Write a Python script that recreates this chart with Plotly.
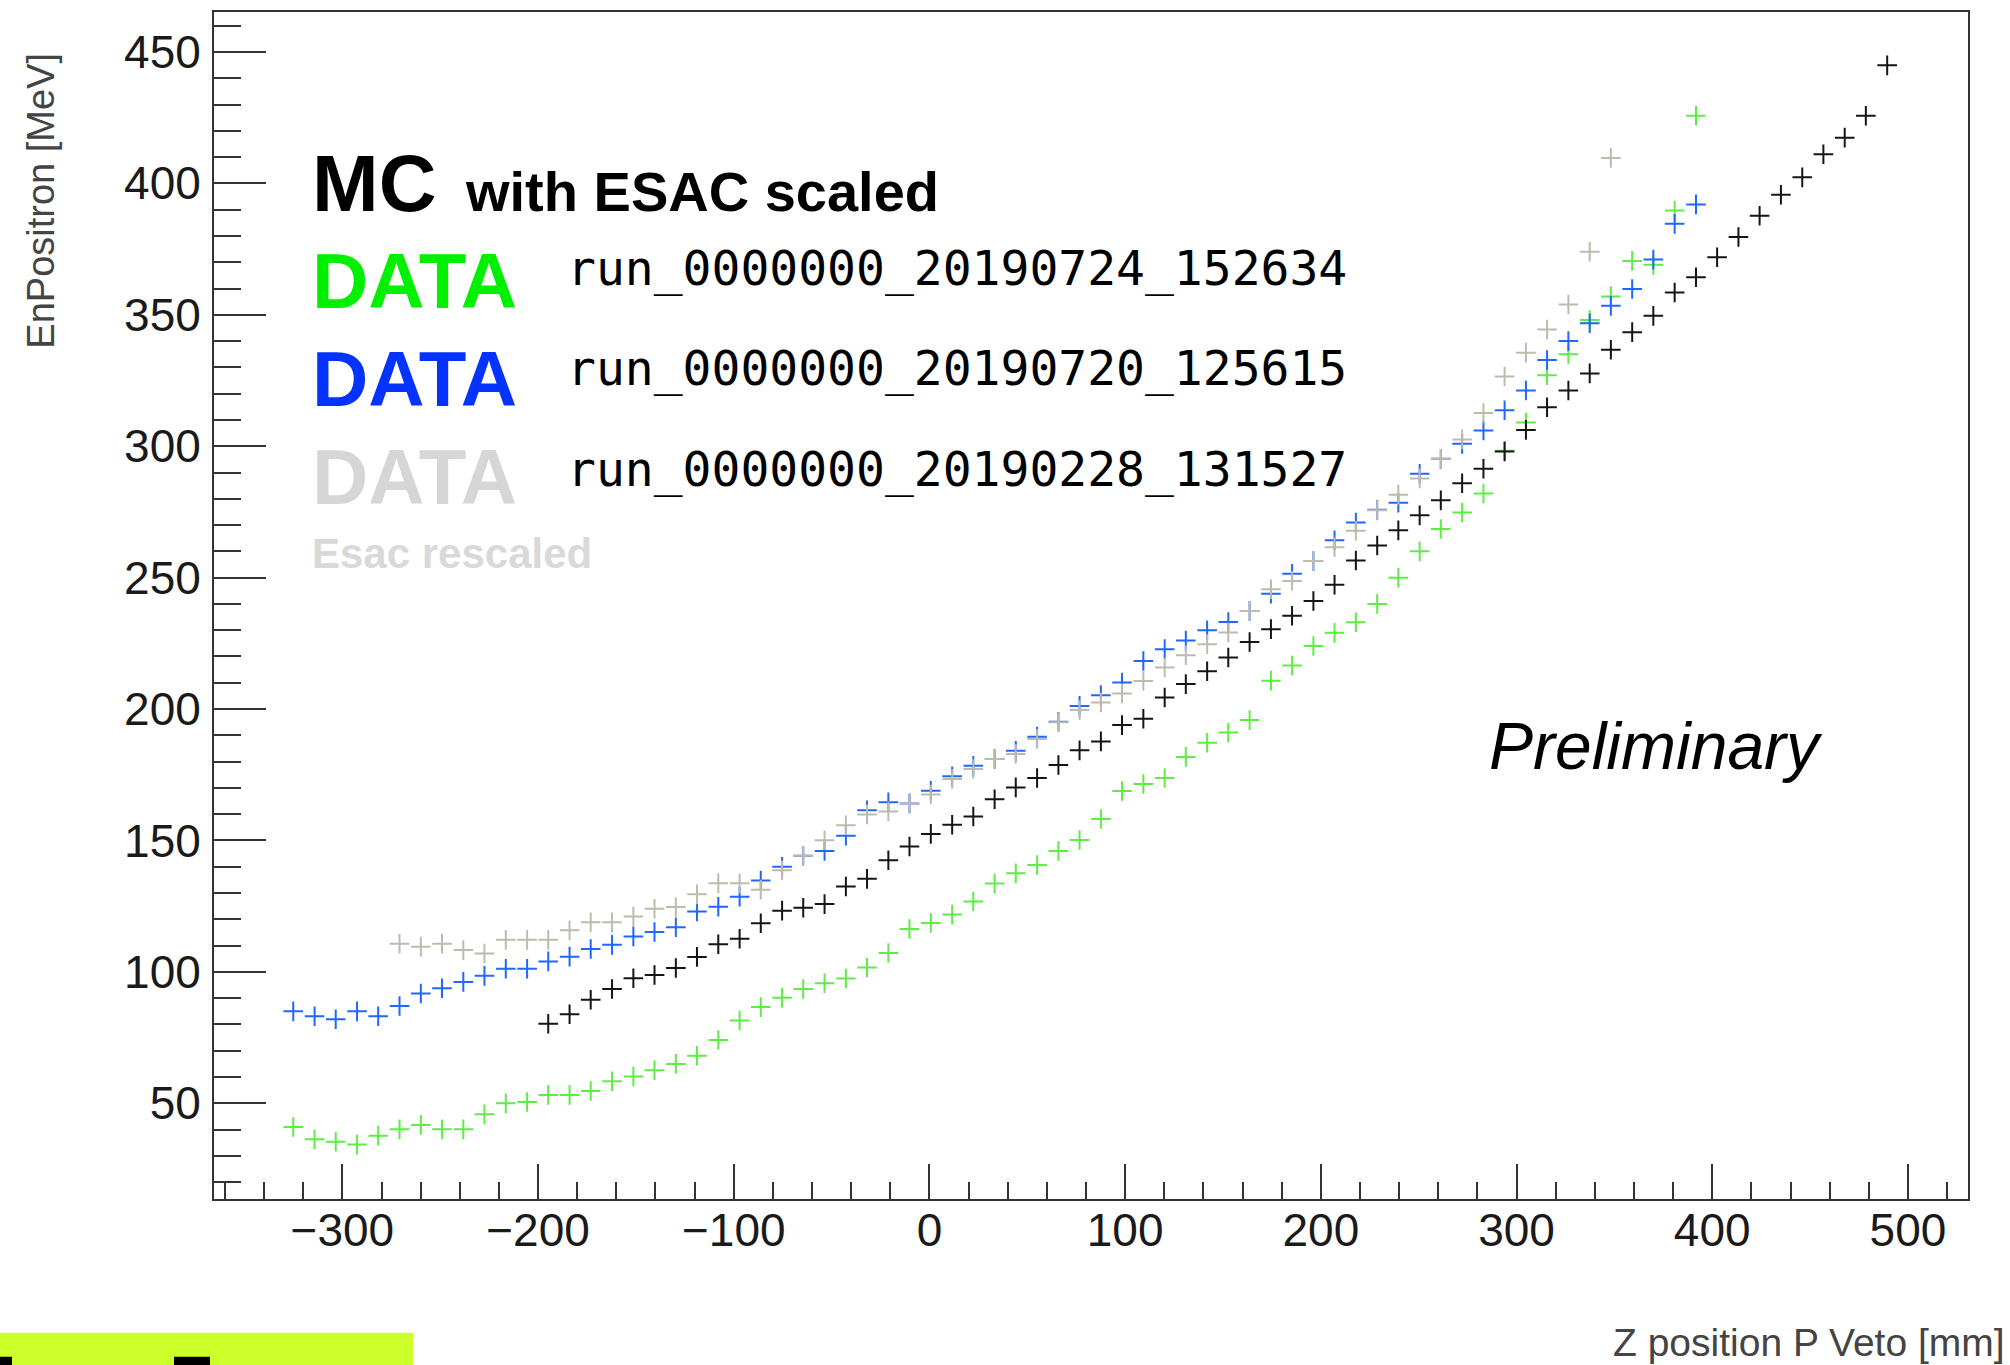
import plotly.graph_objects as go

# ---------------- data ----------------
# Z positions of the P-Veto fingers [mm] (shared channel grid)
z_pos = [-325.1, -314.2, -303.4, -292.5, -281.7, -270.8, -259.9, -249.1, -238.2, -227.4,
         -216.5, -205.6, -194.8, -183.9, -173.1, -162.2, -151.3, -140.5, -129.6, -118.8,
         -107.9, -97.0, -86.2, -75.3, -64.5, -53.6, -42.7, -31.9, -21.0, -10.2,
         0.7, 11.6, 22.4, 33.3, 44.1, 55.0, 65.9, 76.7, 87.6, 98.4,
         109.3, 120.2, 131.0, 141.9, 152.7, 163.6, 174.5, 185.3, 196.2, 207.0,
         217.9, 228.8, 239.6, 250.5, 261.3, 272.2, 283.1, 293.9, 304.8, 315.6,
         326.5, 337.4, 348.2, 359.1, 369.9, 380.8, 391.7, 402.5, 413.4, 424.2,
         435.1, 446.0, 456.8, 467.7, 478.5, 489.4]

# MC with ESAC scaled (channels 12..75)
mc_energy = [80.3, 83.9, 89.4, 93.5, 97.6, 98.8, 101.5, 105.7, 110.5, 112.6,
             118.5, 123.3, 124.4, 125.8, 132.5, 135.4, 142.5, 147.7, 152.5, 156.0,
             159.1, 165.7, 170.2, 173.8, 178.7, 184.3, 187.7, 193.9, 196.3, 204.4,
             209.5, 214.4, 219.6, 225.5, 230.4, 235.5, 241.1, 247.3, 256.5, 262.2,
             268.0, 273.7, 279.4, 285.9, 291.4, 298.0, 306.2, 314.8, 321.2, 327.7,
             336.7, 343.4, 349.6, 358.5, 364.3, 371.9, 379.6, 387.7, 395.7, 402.3,
             411.1, 417.4, 425.7, 444.9]
mc_first = 12

# DATA run_0000000_20190724_152634 (green, channels 0..66)
green_energy = [41.0, 36.3, 35.4, 34.3, 37.7, 40.1, 41.8, 40.1, 40.1, 45.8,
                50.0, 50.5, 53.2, 53.2, 54.7, 58.4, 60.2, 62.6, 65.0, 68.1,
                74.1, 81.5, 86.6, 90.2, 93.5, 95.7, 97.5, 101.7, 107.2, 116.3,
                118.6, 121.8, 126.8, 133.6, 137.5, 140.7, 146.0, 150.2, 158.2, 168.8,
                171.5, 173.8, 181.8, 187.2, 191.1, 195.8, 210.8, 216.6, 224.0, 229.0,
                233.0, 240.0, 250.0, 260.0, 268.5, 274.8, 282.0, 298.3, 309.0, 327.0,
                335.0, 348.0, 357.0, 370.5, 369.0, 389.7, 425.7]
green_first = 0

# DATA run_0000000_20190720_125615 (blue, channels 0..66)
blue_energy = [85.0, 83.1, 82.0, 85.0, 83.1, 87.0, 91.8, 93.8, 96.2, 98.5,
               101.2, 101.2, 104.0, 105.8, 108.7, 110.3, 113.5, 115.2, 117.0, 123.0,
               124.8, 128.6, 134.8, 140.0, 144.2, 146.0, 151.8, 161.5, 164.5, 164.1,
               168.9, 174.4, 178.4, 181.0, 184.1, 189.5, 195.2, 201.2, 205.3, 210.1,
               218.3, 222.8, 226.1, 230.0, 233.1, 237.3, 243.9, 251.5, 256.3, 264.2,
               271.0, 275.8, 278.5, 289.5, 295.2, 300.9, 306.0, 313.7, 321.2, 332.8,
               340.0, 346.8, 353.4, 359.8, 371.0, 384.6, 392.0]
blue_first = 0

# DATA run_0000000_20190228_131527, Esac rescaled (grey, channels 5..62)
grey_energy = [110.7, 109.6, 110.7, 108.3, 107.0,
               112.2, 112.2, 112.2, 115.8, 118.9, 118.9, 121.1, 124.0, 124.7, 129.5,
               133.7, 133.7, 131.3, 138.7, 144.2, 150.1, 155.8, 159.9, 161.0, 164.1,
               167.5, 173.4, 177.2, 181.0, 182.9, 188.6, 195.0, 199.6, 202.5, 205.9,
               210.7, 215.8, 220.5, 224.7, 229.1, 237.3, 245.6, 248.7, 256.3, 261.6,
               267.8, 275.6, 281.5, 287.7, 295.2, 302.6, 312.6, 326.5, 335.6, 344.4,
               353.9, 374.0, 409.7]
grey_first = 5

run_labels = ["run_0000000_20190724_152634",
              "run_0000000_20190720_125615",
              "run_0000000_20190228_131527"]

x_range = [-365.6, 530.7]
y_range = [13.6, 465.2]

# ---------------- styling ----------------
W, H = 2010, 1365
L, R, T, B = 214, 1968, 10, 1199


def px(x):
    return (x - L) / (R - L)


def py(y):
    return (B - y) / (B - T)


SANS = "Liberation Sans"
MONO = "DejaVu Sans Mono"

fig = go.Figure()


def add_series(first, energy, color):
    fig.add_trace(go.Scatter(
        x=z_pos[first:first + len(energy)], y=energy, mode="markers",
        marker=dict(symbol="cross-thin", size=14, color=color,
                    line=dict(width=2, color=color)),
        hoverinfo="x+y"))


add_series(green_first, green_energy, "#5fec46")
add_series(blue_first, blue_energy, "#2166ff")
add_series(grey_first, grey_energy, "#bdbcac")
add_series(mc_first, mc_energy, "#151515")

axis_common = dict(showline=True, linewidth=2, linecolor="#333333", mirror=True,
                   showgrid=False, zeroline=False, ticks="inside", tickwidth=2,
                   tickcolor="#333333",
                   tickfont=dict(family=SANS, size=46, color="#1a1a1a"))

fig.update_xaxes(range=x_range, tick0=0, dtick=100, ticklen=35,
                 ticklabelstandoff=-10,
                 minor=dict(tick0=0, dtick=20, ticks="inside", ticklen=17,
                            tickwidth=2, tickcolor="#333333", showgrid=False),
                 **axis_common)
fig.update_yaxes(range=y_range, tick0=0, dtick=50, ticklen=52,
                 ticklabelstandoff=2,
                 minor=dict(tick0=0, dtick=10, ticks="inside", ticklen=27,
                            tickwidth=2, tickcolor="#333333", showgrid=False),
                 **axis_common)

ann = []


def text(x, y, s, size, color="black", family=SANS, weight="normal",
         style="normal", xanchor="left", angle=0):
    ann.append(dict(x=px(x), y=py(y), xref="paper", yref="paper", text=s,
                    showarrow=False, xanchor=xanchor, yanchor="middle",
                    textangle=angle,
                    font=dict(family=family, size=size, color=color,
                              weight=weight, style=style)))


text(41, 199, "EnPositron [MeV]", 38, color="#444444", xanchor="center", angle=-90)
text(2007, 1343, "Z position P Veto [mm]", 39, color="#444444", xanchor="right")

text(310, 182, "MC", 80, weight="bold")
text(463, 190, "with ESAC scaled", 56, weight="bold")
text(310, 279, "DATA", 78, color="#00f000", weight="bold")
text(310, 378, "DATA", 78, color="#0433ff", weight="bold")
text(310, 476, "DATA", 78, color="#d6d6d6", weight="bold")
text(310, 552, "Esac rescaled", 42, color="#d9d9d9", weight="bold")
text(565, 266, run_labels[0], 48, family=MONO)
text(565, 367, run_labels[1], 48, family=MONO)
text(565, 468, run_labels[2], 48, family=MONO)
text(1487, 745, "Preliminary", 66, style="italic")

shapes = [
    dict(type="rect", xref="paper", yref="paper", x0=px(0), x1=px(413),
         y0=py(1370), y1=py(1333), fillcolor="#ccff2a", line=dict(width=0), layer="above"),
    dict(type="rect", xref="paper", yref="paper", x0=px(0), x1=px(12),
         y0=py(1370), y1=py(1357), fillcolor="black", line=dict(width=0), layer="above"),
    dict(type="rect", xref="paper", yref="paper", x0=px(174), x1=px(210),
         y0=py(1370), y1=py(1357), fillcolor="black", line=dict(width=0), layer="above"),
]

fig.update_layout(width=W, height=H,
                  margin=dict(l=L, r=W - R, t=T, b=H - B, pad=0),
                  paper_bgcolor="white", plot_bgcolor="white",
                  showlegend=False, annotations=ann, shapes=shapes)

fig.write_html("out.html", config={"displayModeBar": False},
               post_script="document.body.style.margin='0';document.body.style.overflow='hidden';")
